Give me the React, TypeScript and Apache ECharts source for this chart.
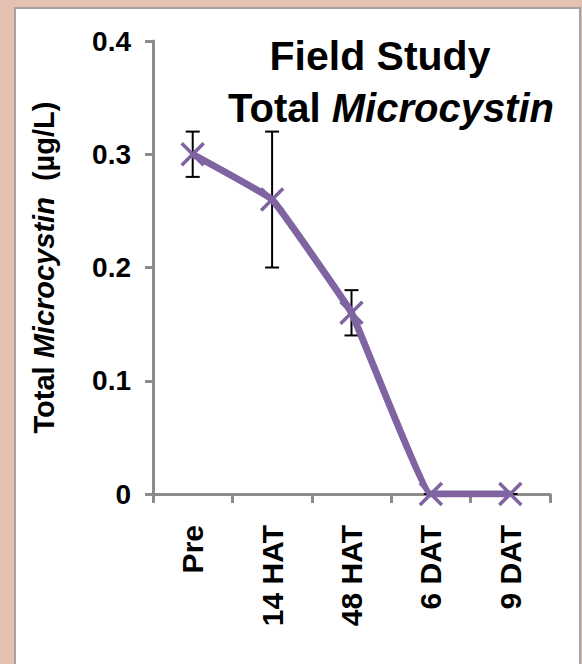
import React, { useEffect, useRef } from "react";
import * as echarts from "echarts";

const categories = ["Pre", "14 HAT", "48 HAT", "6 DAT", "9 DAT"];
const values = [0.3, 0.26, 0.16, 0, 0];
const errLow = [0.28, 0.2, 0.14, 0, 0];
const errHigh = [0.32, 0.32, 0.18, 0, 0];
const yMin = 0;
const yMax = 0.4;
const yStep = 0.1;

const FONT = 'Arial, "Liberation Sans", Helvetica, sans-serif';
const AXIS_COLOR = "#8c8c8c";
const LINE_COLOR = "#8064a2";

export default function App() {
  const ref = useRef<HTMLDivElement>(null);

  useEffect(() => {
    if (!ref.current) return;
    const chart = echarts.init(ref.current, null, { renderer: "svg" });
    const errData = categories.map((_, i) => [i, errHigh[i], errLow[i]]);

    chart.setOption({
      animation: false,
      backgroundColor: "#e5c1b1",
      graphic: [
        {
          type: "rect",
          z: -10,
          shape: { x: 15, y: 8, width: 565, height: 700 },
          style: { fill: "#ffffff", stroke: "#a3a3a3", lineWidth: 2 },
        },
      ],
      title: {
        text: "{h|Field Study}\n{b|Total }{i|Microcystin}",
        left: 386,
        top: 25,
        textAlign: "center",
        textStyle: {
          rich: {
            h: { fontFamily: FONT, fontSize: 41, fontWeight: "bold", color: "#000", lineHeight: 52, padding: [0, 22, 0, 0] },
            b: { fontFamily: FONT, fontSize: 40, fontWeight: "bold", color: "#000", lineHeight: 52 },
            i: { fontFamily: FONT, fontSize: 40, fontWeight: "bold", fontStyle: "italic", color: "#000", lineHeight: 52 },
          },
        },
      },
      grid: { left: 153, right: 32, top: 41, bottom: 170, containLabel: false },
      xAxis: {
        type: "category",
        data: categories,
        boundaryGap: true,
        axisLine: { show: true, lineStyle: { color: AXIS_COLOR, width: 3 } },
        axisTick: { show: true, length: 9, lineStyle: { color: AXIS_COLOR, width: 3 } },
        axisLabel: {
          rotate: 90,
          margin: 31,
          fontFamily: FONT,
          fontSize: 30,
          fontWeight: "bold",
          color: "#000",
          interval: 0,
        },
        splitLine: { show: false },
      },
      yAxis: {
        type: "value",
        min: yMin,
        max: yMax,
        interval: yStep,
        name: "{b|Total }{i|Microcystin}{b|  (µg/L)}",
        nameLocation: "middle",
        nameGap: 95,
        nameRotate: 90,
        nameTextStyle: {
          rich: {
            b: { fontFamily: FONT, fontSize: 29, fontWeight: "bold", color: "#000" },
            i: { fontFamily: FONT, fontSize: 29, fontWeight: "bold", fontStyle: "italic", color: "#000" },
          },
        },
        axisLine: { show: true, lineStyle: { color: AXIS_COLOR, width: 3 } },
        axisTick: { show: true, length: 8, lineStyle: { color: AXIS_COLOR, width: 3 } },
        axisLabel: {
          margin: 22,
          fontFamily: FONT,
          fontSize: 28,
          fontWeight: "bold",
          color: "#000",
          formatter: (v: number) => (v === 0 ? "0" : v.toFixed(1)),
        },
        splitLine: { show: false },
      },
      series: [
        {
          type: "custom",
          z: 1,
          data: errData,
          encode: { x: 0, y: [1, 2] },
          renderItem: (params: any, api: any) => {
            const i = api.value(0);
            const hi = api.coord([i, api.value(1)]);
            const lo = api.coord([i, api.value(2)]);
            const w = 7;
            const style = { stroke: "#000", lineWidth: 2 };
            return {
              type: "group",
              children: [
                { type: "line", shape: { x1: hi[0], y1: hi[1], x2: lo[0], y2: lo[1] }, style },
                { type: "line", shape: { x1: hi[0] - w, y1: hi[1], x2: hi[0] + w, y2: hi[1] }, style },
                { type: "line", shape: { x1: lo[0] - w, y1: lo[1], x2: lo[0] + w, y2: lo[1] }, style },
              ],
            };
          },
        },
        {
          type: "line",
          z: 2,
          data: values,
          smooth: 0.07,
          symbol: "path://M0,0L10,10M10,0L0,10",
          symbolSize: 22,
          showSymbol: true,
          lineStyle: { color: LINE_COLOR, width: 7 },
          itemStyle: { color: LINE_COLOR, borderColor: LINE_COLOR, borderWidth: 3.5 },
        },
      ],
    });

    return () => chart.dispose();
  }, []);

  return (
    <div
      ref={ref}
      style={{ position: "absolute", left: 0, top: 0, width: 582, height: 664 }}
    />
  );
}
